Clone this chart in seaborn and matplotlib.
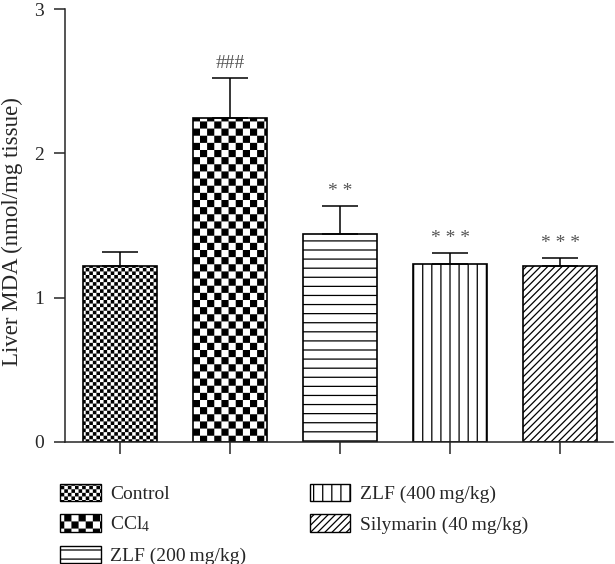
import numpy as np
import pandas as pd
import matplotlib
matplotlib.use("Agg")
import matplotlib.pyplot as plt
import matplotlib.patches as mpatches
import matplotlib.hatch as mhatch
from matplotlib.path import Path
import seaborn as sns

groups = ["Control", "CCl$_4$", "ZLF (200\u2009mg/kg)", "ZLF (400\u2009mg/kg)",
          "Silymarin (40\u2009mg/kg)"]
mda_mean = [1.22, 2.245, 1.443, 1.231, 1.219]
mda_sem = [0.097, 0.275, 0.19, 0.078, 0.058]
marks = ["", "###", "* *", "* * *", "* * *"]
hatches = ["o", "O", "-", "|", "/"]


# custom hatch patterns (checkerboards + line spacings of the original)
class Checker(mhatch.HatchPatternBase):
    char = "o"
    n = 28
    inset = 0.0062

    def __init__(self, hatch, density):
        if self.char in hatch:
            self.cells = [(i, j) for i in range(self.n) for j in range(self.n)
                          if (i + j) % 2 == 0]
        else:
            self.cells = []
        self.num_vertices = 5 * len(self.cells)

    def set_vertices_and_codes(self, vertices, codes):
        s = 1.0 / self.n
        d = self.inset
        for k, (i, j) in enumerate(self.cells):
            x0, y0 = i * s + d, j * s + d
            x1, y1 = (i + 1) * s - d, (j + 1) * s - d
            vertices[5 * k:5 * k + 5] = [(x0, y0), (x1, y0), (x1, y1), (x0, y1), (x0, y0)]
            codes[5 * k:5 * k + 5] = [Path.MOVETO, Path.LINETO, Path.LINETO,
                                      Path.LINETO, Path.CLOSEPOLY]


class CoarseChecker(Checker):
    char = "O"
    n = 14


class Lines(mhatch.HatchPatternBase):
    char = "-"
    n = 11

    def __init__(self, hatch, density):
        self.on = self.char in hatch
        self.num_vertices = 2 * self.count() if self.on else 0

    def count(self):
        return self.n

    def segments(self):
        c = (np.arange(self.n) + 0.5) / self.n
        return [((0.0, y), (1.0, y)) for y in c]

    def set_vertices_and_codes(self, vertices, codes):
        for k, (a, b) in enumerate(self.segments()):
            vertices[2 * k] = a
            vertices[2 * k + 1] = b
            codes[2 * k] = Path.MOVETO
            codes[2 * k + 1] = Path.LINETO


class VLines(Lines):
    char = "|"
    n = 11

    def segments(self):
        c = (np.arange(self.n) + 0.5) / self.n
        return [((x, 0.0), (x, 1.0)) for x in c]


class DLines(Lines):
    char = "/"
    n = 14

    def count(self):
        return 2 * self.n

    def segments(self):
        c = np.arange(-self.n, self.n) / self.n
        return [((x, 0.0), (x + 1.0, 1.0)) for x in c]


mhatch._hatch_types[:] = [Checker, CoarseChecker, Lines, VLines, DLines]

sns.set_style("ticks")
plt.rcParams["font.family"] = ["Liberation Serif", "DejaVu Serif"]
plt.rcParams["mathtext.fontset"] = "custom"
plt.rcParams["mathtext.rm"] = "Liberation Serif"
plt.rcParams["mathtext.it"] = "Liberation Serif:italic"
plt.rcParams["hatch.linewidth"] = 0.9
plt.rcParams["hatch.color"] = "black"

df = pd.DataFrame({"group": groups, "mda": mda_mean})

fig = plt.figure(figsize=(6.15, 5.64), dpi=100)
ax = fig.add_axes([65 / 615, 1 - 442 / 564, 548 / 615, 433 / 564])

sns.barplot(data=df, x="group", y="mda", color="white", saturation=1,
            edgecolor="black", linewidth=1.2, width=0.67, errorbar=None, ax=ax)
for bar, h in zip(ax.patches, hatches):
    bar.set_hatch(h)

xs = np.arange(len(groups))
ax.errorbar(xs, mda_mean, yerr=[np.zeros(len(groups)), mda_sem], fmt="none",
            ecolor="black", elinewidth=1.1, capsize=13, capthick=1.1, zorder=3)

for x, m, e, t in zip(xs, mda_mean, mda_sem, marks):
    if t:
        ax.annotate(t, xy=(x, m + e), xytext=(0, 10.5), textcoords="offset points",
                    ha="center", va="center", fontsize=14, color="#555555")

ax.set_ylim(0, 3)
ax.set_xlim(-0.5, 4.48)
ax.set_yticks([0, 1, 2, 3])
ax.set_xticks(xs)
ax.set_xticklabels([])
ax.set_xlabel("")
ax.set_ylabel("Liver MDA (nmol/mg tissue)", fontsize=16.5)
ax.yaxis.set_label_coords(-0.077, 0.485)
ax.tick_params(axis="y", length=8, width=1.1, labelsize=14, pad=7)
ax.tick_params(axis="x", length=8.6, width=1.1)
sns.despine(ax=ax)
for s in ["left", "bottom"]:
    ax.spines[s].set_linewidth(1.1)

handles = [mpatches.Patch(facecolor="white", edgecolor="black", linewidth=1.0, hatch=h)
           for h in hatches]
fig.legend(handles, groups, ncol=2, loc="upper left", bbox_to_anchor=(52 / 615, 1 - 476 / 564),
           frameon=False, fontsize=14, handlelength=2.1, handleheight=1.0,
           handletextpad=0.5, labelspacing=0.58, columnspacing=3.25, borderaxespad=0)

fig.savefig("out.png", dpi=100)
